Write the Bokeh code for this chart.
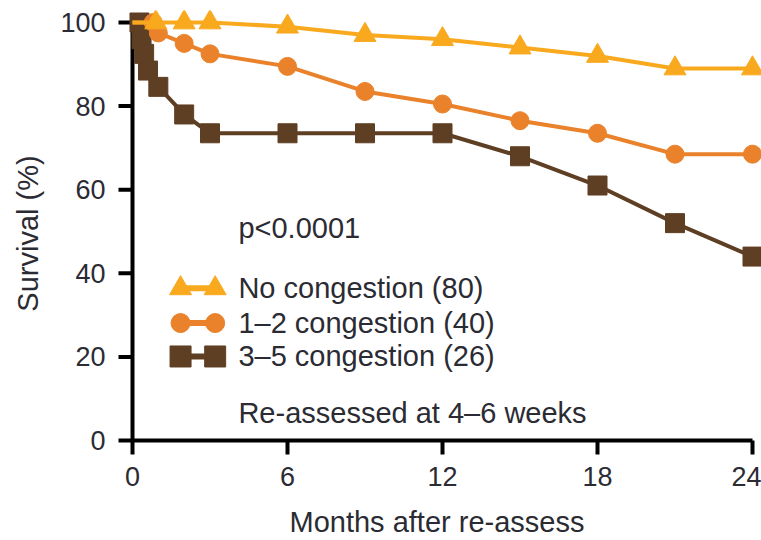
from bokeh.plotting import figure
from bokeh.models import Range1d, FixedTicker, ColumnDataSource
from bokeh.core.properties import value
from bokeh.embed import file_html
from bokeh.resources import INLINE

# Kaplan-Meier survival by congestion score, months after re-assessment.
# Each curve starts at (0, 100); symbols mark the later time points.
months_none = [0, 0.9, 2, 3, 6, 9, 12, 15, 18, 21, 24]
surv_none = [100, 100, 100, 100, 99, 97, 96, 94, 92, 89, 89]

months_mid = [0, 0.8, 1.0, 2, 3, 6, 9, 12, 15, 18, 21, 24]
surv_mid = [100, 100, 97.5, 95, 92.5, 89.5, 83.5, 80.5, 76.5, 73.5, 68.5, 68.5]

months_high = [0, 0.27, 0.35, 0.45, 0.6, 1.0, 2, 3, 6, 9, 12, 15, 18, 21, 24]
surv_high = [100, 100, 96, 92.5, 88.5, 84.6, 78, 73.5, 73.5, 73.5, 73.5, 68, 61, 52, 44]

series_labels = ["No congestion (80)", "1\u20132 congestion (40)", "3\u20135 congestion (26)"]
x_ticks = [0, 6, 12, 18, 24]
y_ticks = [0, 20, 40, 60, 80, 100]

YELLOW = "#F9A91E"
ORANGE = "#EA822B"
BROWN = "#5F3F24"
TEXT = "#2b2b33"
FONT = "Liberation Sans"

# pixel geometry: the frame reaches past the origin so the
# outward tick marks at the axes fit inside it
PX_PER_MONTH = 620 / 24.0
PX_PER_PCT = 418 / 100.0
PAD_LEFT, PAD_BOTTOM, TICK_LEN = 20, 16, 14
x_range = Range1d(-PAD_LEFT / PX_PER_MONTH, 24 + 9 / PX_PER_MONTH)
y_range = Range1d(-PAD_BOTTOM / PX_PER_PCT, 100 + 12 / PX_PER_PCT)

p = figure(width=761, height=540, output_backend="svg", toolbar_location=None,
           x_range=x_range, y_range=y_range,
           min_border_left=132 - PAD_LEFT, min_border_right=0,
           min_border_top=10, min_border_bottom=100 - PAD_BOTTOM)
p.outline_line_color = None
p.xgrid.visible = False
p.ygrid.visible = False
p.background_fill_color = "white"
p.border_fill_color = "white"

# the library axes carry the tick numbers and the titles
for ax, ticks, title in ((p.xaxis, x_ticks, "Months after re-assess"),
                         (p.yaxis, y_ticks, "Survival (%)")):
    ax.ticker = FixedTicker(ticks=ticks)
    ax.axis_line_color = None
    ax.major_tick_line_color = None
    ax.minor_tick_line_color = None
    ax.major_tick_in = 0
    ax.major_tick_out = 0
    ax.major_label_text_font = FONT
    ax.major_label_text_font_size = "27px"
    ax.major_label_text_color = TEXT
    ax.axis_label = title
    ax.axis_label_text_font = FONT
    ax.axis_label_text_font_size = "29px"
    ax.axis_label_text_font_style = "normal"
    ax.axis_label_text_color = TEXT
p.xaxis.major_label_standoff = 10
p.xaxis.axis_label_standoff = 17
p.yaxis.major_label_standoff = 7
p.yaxis.axis_label_standoff = 13

# axis rules and outward tick marks at the origin
tick_dy = TICK_LEN / PX_PER_PCT
tick_dx = TICK_LEN / PX_PER_MONTH
p.segment(x0=[0, 0], y0=[0, 0], x1=[x_ticks[-1], 0], y1=[0, y_ticks[-1]],
          line_width=4, line_color="black")
p.segment(x0=x_ticks, y0=[0] * len(x_ticks), x1=x_ticks, y1=[-tick_dy] * len(x_ticks),
          line_width=4, line_color="black")
p.segment(x0=[0] * len(y_ticks), y0=y_ticks, x1=[-tick_dx] * len(y_ticks), y1=y_ticks,
          line_width=4, line_color="black")

# survival curves: brown underneath, yellow on top
curves = [
    (months_high, surv_high, BROWN, "square", 19),
    (months_mid, surv_mid, ORANGE, "circle", 18),
    (months_none, surv_none, YELLOW, "triangle", 22),
]
for xs, ys, col, mk, sz in curves:
    p.line(xs, ys, line_width=4, color=col)
    p.scatter(xs[1:], ys[1:], marker=mk, size=sz, color=col)

# hand-drawn legend: two markers joined by a line, then the label
icon_x0, icon_x1, text_x = 1.86, 3.2, 4.1
rows = [36.4, 28.1, 20.1]
styles = [("triangle", 22, YELLOW), ("circle", 19, ORANGE), ("square", 21, BROWN)]
for yy, (mk, sz, col) in zip(rows, styles):
    p.line([icon_x0, icon_x1], [yy, yy], line_width=6, color=col)
    p.scatter([icon_x0, icon_x1], [yy, yy], marker=mk, size=sz, color=col)
src = ColumnDataSource(dict(x=[text_x] * 3, y=rows, t=series_labels))
p.text(x="x", y="y", text="t", source=src, text_font=value(FONT),
       text_font_size="29px", text_color=TEXT, text_baseline="middle")

notes = ColumnDataSource(dict(x=[text_x, text_x], y=[50.9, 6.5],
                              t=["p<0.0001", "Re-assessed at 4\u20136 weeks"]))
p.text(x="x", y="y", text="t", source=notes, text_font=value(FONT),
       text_font_size="29px", text_color=TEXT, text_baseline="middle")

open("out.html", "w").write(file_html(p, INLINE))
